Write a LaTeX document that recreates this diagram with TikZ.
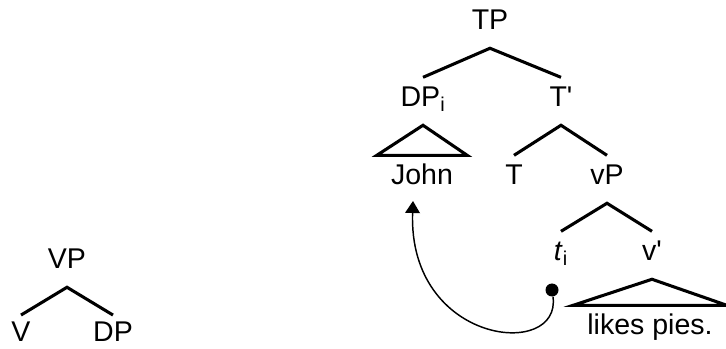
\documentclass[tikz,border=0pt]{standalone}
\usepackage{fontspec}
\setmainfont{Liberation Sans}
\usetikzlibrary{arrows.meta}
\usetikzlibrary{calc}
\tikzset{>={Triangle[width=11pt,length=9pt]}}
\tikzset{
  lab/.style={font=\fontsize{21.4}{24}\selectfont, text height=15.3pt, text depth=6.75pt, inner ysep=6.75pt, inner xsep=2pt, anchor=base},
  leaf/.style={lab, text height=19pt, text depth=0pt, inner ysep=1pt},
  roof/.style={lab, inner xsep=10.5pt},
  branch/.style={line width=2.3pt},
  dot/.style={circle, fill, inner sep=0pt, minimum size=9.75pt}
}
\begin{document}
\begin{tikzpicture}[x=0.75pt,y=0.75pt,yscale=-1,xscale=1]
\useasboundingbox (0,0) rectangle (726,349);

%Small tree: VP
\node[lab] (VP) at (67,269) {VP};
\node[leaf] (V) at (21,342) {V};
\node[leaf] (DP) at (113,342) {DP};
\draw[branch] (V.north) -- (VP.south) -- (DP.north);

%Big tree: TP
\node[lab] (TP) at (490,30) {TP};
\node[lab] (DPi) at (423,107) {DP\textsubscript{i}};
\node[lab] (Tbar) at (561,107) {T\textquotesingle};
\draw[branch] (DPi.north) -- (TP.south) -- (Tbar.north);
%Shape: Triangle
\node[roof] (John) at (422,185) {John};
\draw[branch] (DPi.south) -- (John.north east) -- (John.north west) -- cycle;
\node[lab] (T) at (514,185) {T};
\node[lab] (vP) at (607,185) {vP};
\draw[branch] (T.north) -- (Tbar.south) -- (vP.north);
\node[lab] (ti) at (561,261) {\textit{t}\textsubscript{i}};
\node[lab] (vbar) at (652,261) {v\textquotesingle};
\draw[branch] (ti.north) -- (vP.south) -- (vbar.north);
%Shape: Triangle
\node[roof] (likes) at (650,335) {likes pies.};
\draw[branch] (vbar.south) -- (likes.north east) -- (likes.north west) -- cycle;

%Movement arrow
\node[dot] (trace) at (552,290) {};
\coordinate (land) at (413,201);
\draw[line width=1.1pt,->] (trace) .. controls (562,360) and (408,345) .. (land);
\end{tikzpicture}
\end{document}
